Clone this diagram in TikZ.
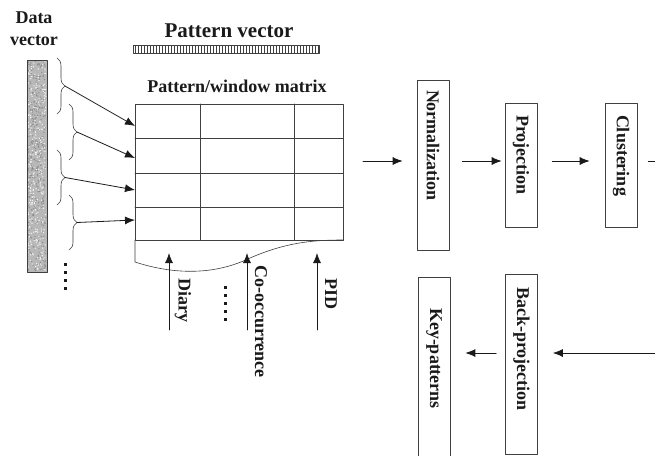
\documentclass[tikz,border=0pt]{standalone}
\usepackage{fontspec}
\setmainfont{Liberation Serif}
\usetikzlibrary{arrows.meta,calc,positioning,decorations.pathreplacing,patterns}
\definecolor{kpInk}{HTML}{1A1A1A}
\definecolor{kpLine}{HTML}{404040}
\definecolor{kpGrain}{HTML}{B8B8B8}

\begin{document}
\begin{tikzpicture}[x=1pt,y=-1pt,>=Latex,line cap=round,line join=round,font=\bfseries\fontsize{18}{22}\selectfont]
\useasboundingbox (0,0) rectangle (655,455);
\clip (0,0) rectangle (655,455);
\path[fill=white] (0,0) rectangle (655,455);
\tikzset{flow/.style={draw=kpInk,line width=0.8pt,-{Latex[length=10pt,width=8pt]}},grid/.style={draw=kpLine,line width=0.6pt},stage/.style={draw=kpLine,line width=0.7pt,rotate=-90,minimum height=32pt,inner ysep=0pt,align=left,text=kpInk},lbl/.style={rotate=-90,inner sep=0pt,text=kpInk},bracket/.style={draw=kpLine,line width=0.6pt,decorate,decoration={brace,amplitude=8pt}}}
% data vector and its windows
\node[align=center,anchor=north,inner sep=0pt,text=kpInk] (dvtitle) at (34,12) {Data\\vector};
\path[fill=kpGrain] (27,60) rectangle (47,272);
\pgfmathsetseed{11}
\foreach \i in {1,...,380} \fill[black!45] ({28+18*rnd},{61+210*rnd}) circle (0.7);
\foreach \i in {1,...,300} \fill[white!85!kpGrain] ({28+18*rnd},{61+210*rnd}) circle (0.7);
\draw[kpLine,line width=0.7pt] (27,60) rectangle (47,272);
\foreach \k in {0,...,3} \fill[kpInk] (64,{263+8*\k}) rectangle ++(3,3);
% pattern vector
\node[anchor=base,inner sep=0pt,text=kpInk,font=\bfseries\fontsize{21}{24}\selectfont] (pvtitle) at (229,37) {Pattern vector};
\draw[kpLine,line width=0.5pt,pattern=vertical lines,pattern color=kpLine] (133,45) rectangle (319,53);
% pattern/window matrix
\node[anchor=base,inner sep=0pt,text=kpInk] (mtitle) at (237,92) {Pattern/window matrix};
\draw[grid] (135,104) rectangle (343,240);
\foreach \y in {138,173,207} \draw[grid] (135,\y) -- (343,\y);
\foreach \x in {200,294} \draw[grid] (\x,104) -- (\x,240);
\draw[grid] (135,240) -- (135,262) .. controls (175,275) and (215,275) .. (250,258) .. controls (285,243) and (310,240) .. (343,240);
% windows into rows
\foreach \bx/\top/\bot/\ey [count=\i] in {57/58/114/126, 69/104/160/158, 57/150/205/190, 69/195/250/220}{
  \draw[bracket] (\bx,\top) -- (\bx,\bot);
  \coordinate (tip\i) at ({\bx+8},{(\top+\bot)/2});
  \coordinate (row\i) at (135,\ey);
  \draw[flow] (tip\i) -- (row\i);
}
% feature sources
\foreach \x/\nm/\txt/\ty in {169/diary/Diary/278, 247/cooc/Co-occurrence/265, 317/pid/PID/278}{
  \coordinate (\nm-foot) at (\x,330);
  \coordinate (\nm-head) at (\x,253);
  \draw[flow] (\nm-foot) -- (\nm-head);
  \node[lbl,anchor=west] (\nm) at ({\x+14},\ty) {\txt};
}
\foreach \k in {0,...,4} \fill[kpInk] (224,{286+8*\k}) rectangle ++(3,3);
% processing chain
\node[stage,text width=150pt,inner xsep=10pt] (norm) at (433,165) {Normalization};
\node[stage,text width=100pt,inner xsep=12pt] (proj) at (521,165) {Projection};
\node[stage,text width=100pt,inner xsep=12pt] (clus) at (621,165) {Clustering};
\node[stage,text width=154pt,inner xsep=13pt] (back) at (521.5,364) {Back-projection};
\node[stage,text width=138pt,inner xsep=31pt] (key) at (434,377) {Key-patterns};
\coordinate (matout) at (363,161);
\draw[flow,shorten >=14pt] (matout) -- ([yshift=4pt]norm.south);
\draw[flow,shorten <=13pt,shorten >=3pt] ([yshift=4pt]norm.north) -- ([yshift=4pt]proj.south);
\draw[flow,shorten <=15pt,shorten >=15pt] ([yshift=4pt]proj.north) -- ([yshift=4pt]clus.south);
\draw[flow,shorten <=11pt,shorten >=15pt] ([yshift=4pt]clus.north) -- ++(40,0) |- ([yshift=11pt]back.north);
\coordinate (ret) at ([yshift=11pt]back.south);
\draw[flow,shorten <=9pt,shorten >=15pt] (ret) -- (ret -| key.north);
\end{tikzpicture}
\end{document}
